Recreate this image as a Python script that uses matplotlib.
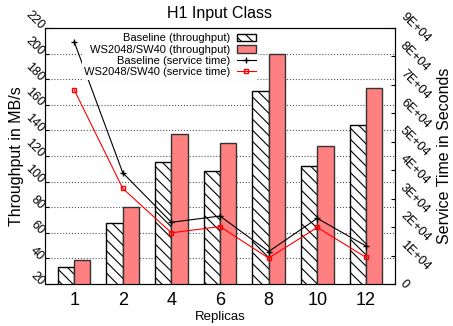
import numpy as np
import matplotlib.pyplot as plt
from matplotlib.ticker import FuncFormatter

replicas = ['1', '2', '4', '6', '8', '10', '12']
base_tp = [33.5, 67.5, 115, 108.5, 171, 112, 144]
ws_tp = [39, 80, 137, 130, 200, 128, 173.5]
base_st = [85200, 39100, 21700, 23900, 11400, 23100, 13400]
ws_st = [68300, 33600, 18000, 20200, 9100, 19900, 9400]

x = np.arange(len(replicas))
w = 0.335

plt.rcParams['font.family'] = ['Liberation Sans', 'DejaVu Sans']
plt.rcParams['hatch.linewidth'] = 0.8
fig = plt.figure(figsize=(4.53, 3.26), dpi=100)
ax = fig.add_axes([0.0993, 0.1288, 0.7727, 0.7852])
ax2 = ax.twinx()

ax.set_axisbelow(True)
ax.yaxis.grid(True, ls=':', color='#555555', lw=0.8)
b1 = ax.bar(x - w/2, base_tp, w, facecolor='white', edgecolor='black',
            hatch='\\\\\\', lw=1, label='Baseline (throughput)')
b2 = ax.bar(x + w/2, ws_tp, w, facecolor='#ff8080', edgecolor='#333333',
            lw=1, label='WS2048/SW40 (throughput)')
ax.set_xlim(-0.6, 6.6)
ax.set_ylim(20, 220)
ax.set_yticks(np.arange(20, 221, 20))
ax.set_xticks(x)
ax.set_xticklabels(replicas, fontsize=13)
ax.tick_params(axis='y', direction='in', labelsize=9, length=3, pad=2)
ax.tick_params(axis='x', direction='in', length=0, pad=6)
for lab in ax.get_yticklabels():
    lab.set_rotation(-45)
    lab.set_rotation_mode('anchor')
    lab.set_ha('right'); lab.set_va('center')
ax.set_xlabel('Replicas', fontsize=9.5)
ax.xaxis.set_label_coords(0.5, -0.129)
ax.xaxis.label.set_va('center')
ax.set_ylabel('Throughput in MB/s', fontsize=11.5)
ax.yaxis.set_label_coords(-0.08, 0.5)
ax.yaxis.label.set_va('center')
ax.set_title('H1 Input Class', fontsize=11.5, pad=7)

l1, = ax2.plot(x, base_st, color='black', lw=0.8, marker='+', ms=5,
               label='Baseline (service time)')
l2, = ax2.plot(x, ws_st, color='red', lw=0.8, marker='s', ms=3.5,
               mfc='none', label='WS2048/SW40 (service time)')
ax2.set_ylim(0, 90000)
ax2.set_yticks(np.arange(0, 90001, 10000))
ax2.yaxis.set_major_formatter(FuncFormatter(
    lambda v, p: '0' if v == 0 else '%dE+04' % round(v / 10000)))
ax2.tick_params(axis='y', direction='in', labelsize=9, length=3, pad=2)
for lab in ax2.get_yticklabels():
    lab.set_rotation(-45)
    lab.set_ha('left'); lab.set_va('center')
ax2.set_ylabel('Service Time in Seconds', fontsize=11.5)
ax2.yaxis.set_label_coords(1.141, 0.5)
ax2.yaxis.label.set_va('center')

leg = ax.legend(handles=[b1, b2, l1, l2], loc='upper right',
                bbox_to_anchor=(0.609, 0.988), markerfirst=False, frameon=True,
                fontsize=8, handlelength=1.7, labelspacing=0.12,
                borderpad=0.2, handletextpad=0.6, borderaxespad=0)
leg.get_frame().set_edgecolor('none')
leg.get_frame().set_facecolor('white')
leg.get_frame().set_alpha(1)
for t in leg.get_texts():
    t.set_ha('right')
leg.remove()
ax2.add_artist(leg)

fig.savefig('out.png', dpi=100)
